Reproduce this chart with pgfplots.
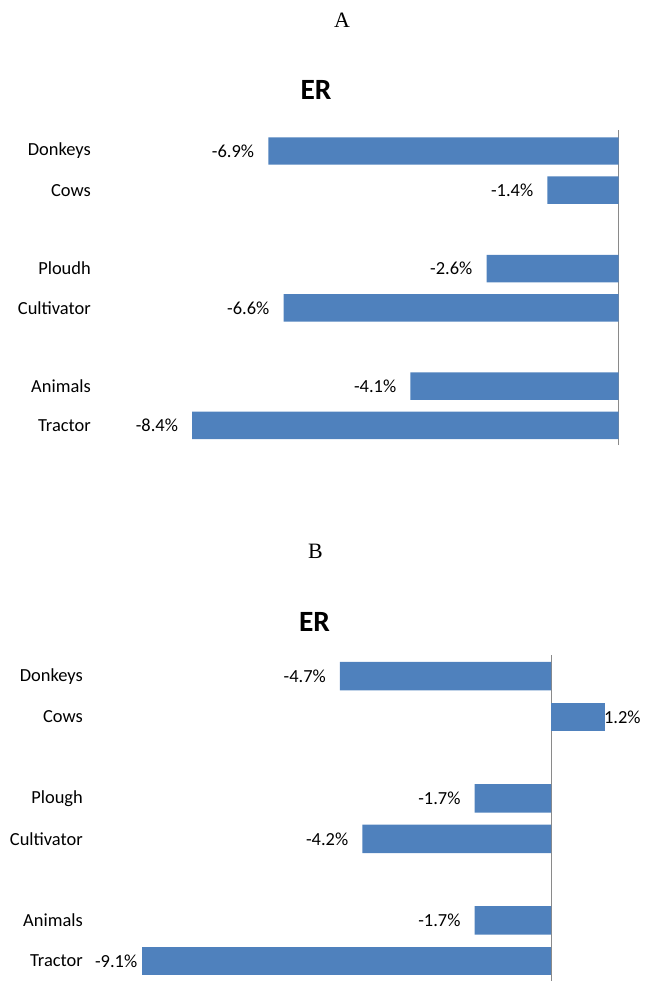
\documentclass[border=0pt]{standalone}
\usepackage{fontspec}
\setmainfont{Carlito}
\newfontfamily\timesfont{Liberation Serif}
\usepackage{pgfplots}
\pgfplotsset{compat=1.18}
\definecolor{barblue}{HTML}{4F81BD}
\definecolor{axisgray}{HTML}{8A8A8A}

\pgfplotsset{
  erpanel/.style={
    scale only axis, anchor=south west, clip=false,
    axis lines=left, axis line style={draw=none,-},
    xtick=\empty, ytick={0,1,3,4,6,7},
    major tick length=0pt, ytick style={draw=none},
    tick label style={font=\fontsize{18.5}{20}\selectfont},
    yticklabel style={anchor=east, inner xsep=0pt},
  },
  % #1 = anchor, #2 = horizontal offset of the value label
  erbar/.style 2 args={
    xbar, bar shift=0pt, bar width=0.7, fill=barblue, draw=none,
    point meta=explicit symbolic, nodes near coords,
    every node near coord/.append style={anchor=#1, inner xsep=0pt,
      xshift=#2, text=black, font=\fontsize{18.5}{20}\selectfont},
  },
}

\begin{document}
\begin{tikzpicture}[x=1bp,y=1bp]
\useasboundingbox (0,0) rectangle (654,-981);

% panel A
\node[font=\timesfont\fontsize{22}{24}\selectfont] at (342,-20) {A};
\node[font=\bfseries\fontsize{29.5}{32}\selectfont] at (316,-89.5) {ER};
\begin{axis}[erpanel,
  at={(161.75bp,-445bp)}, width=456.75bp, height=314.8bp,
  xmin=-9, xmax=0, ymin=-0.5, ymax=7.53,
  yticklabels={Tractor,Animals,Cultivator,Ploudh,Cows,Donkeys},
  yticklabel style={xshift=-70.75bp},
]
\addplot[axisgray, line width=1bp] coordinates {(0,-0.5) (0,7.53)};
\addplot[erbar={east}{-14bp}] coordinates {
  (-6.9,7) [-6.9\%]
  (-1.4,6) [-1.4\%]
  (-2.6,4) [-2.6\%]
  (-6.6,3) [-6.6\%]
  (-4.1,1) [-4.1\%]
  (-8.4,0) [-8.4\%]
};
\end{axis}

% panel B
\node[font=\timesfont\fontsize{22}{24}\selectfont] at (315.5,-551.5) {B};
\node[font=\bfseries\fontsize{29.5}{32}\selectfont] at (314.5,-622) {ER};
\begin{axis}[erpanel,
  at={(124.45bp,-981bp)}, width=493.9bp, height=326bp,
  xmin=-9.5, xmax=1.5, ymin=-0.49, ymax=7.52,
  yticklabels={Tractor,Animals,Cultivator,Plough,Cows,Donkeys},
  yticklabel style={xshift=-41.45bp},
]
\addplot[axisgray, line width=1bp] coordinates {(0,-0.49) (0,7.52)};
\addplot[erbar={east}{-14bp}] coordinates {
  (-4.7,7) [-4.7\%]
  (-1.7,4) [-1.7\%]
  (-4.2,3) [-4.2\%]
  (-1.7,1) [-1.7\%]
};
\addplot[erbar={west}{-1bp}] coordinates {(1.2,6) [1.2\%]};
\addplot[erbar={east}{-5bp}] coordinates {(-9.1,0) [-9.1\%]};
\end{axis}
\end{tikzpicture}
\end{document}
